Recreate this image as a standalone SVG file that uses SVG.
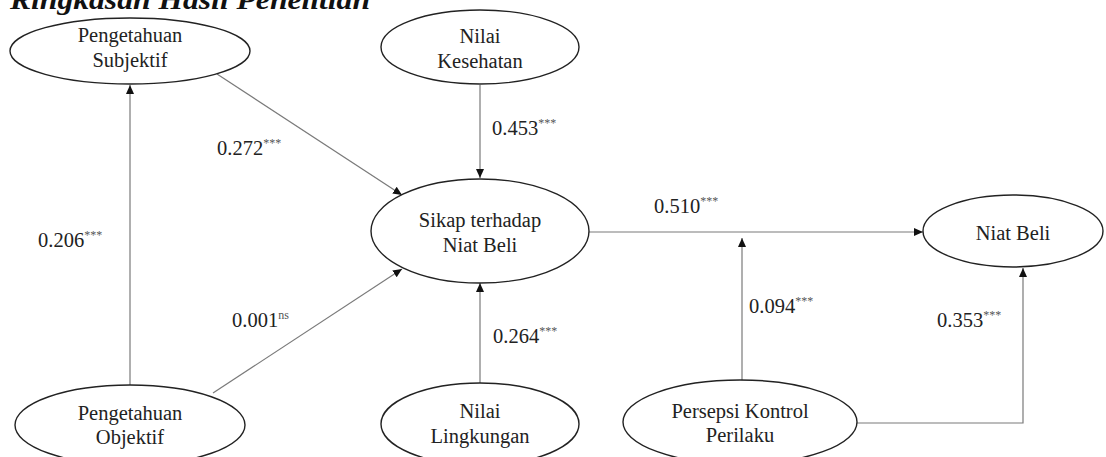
<svg xmlns="http://www.w3.org/2000/svg" width="1106" height="457" viewBox="0 0 1106 457">
<defs>
<marker id="ah" markerUnits="userSpaceOnUse" markerWidth="10" markerHeight="8" refX="9" refY="4" orient="auto">
<path d="M0,0 L9,4 L0,8 Z" fill="#111"/>
</marker>
<style>
.node ellipse{fill:#fff;stroke:#222;stroke-width:1.4}
.t{font-size:20.5px;fill:#222;text-anchor:middle}
.lb{font-size:20.5px;fill:#222}
.sup{font-size:12px;fill:#555}
.ln{stroke:#7a7a7a;stroke-width:1.2;fill:none}
.ar{marker-end:url(#ah)}
.title{font-size:27px;font-weight:bold;font-style:italic;fill:#111}
</style>
</defs>
<rect width="1106" height="457" fill="#fff"/>
<g font-family="'Liberation Serif', 'Times New Roman', 'DejaVu Serif', serif">
<text class="title" x="10" y="9" textLength="360" lengthAdjust="spacingAndGlyphs">Ringkasan Hasil Penelitian</text>
<g id="connectors">
<line class="ln ar" x1="130" y1="385" x2="130" y2="85"/>
<line class="ln ar" x1="217" y1="74" x2="402" y2="195"/>
<line class="ln ar" x1="213" y1="393" x2="402" y2="269"/>
<line class="ln ar" x1="480" y1="85" x2="480" y2="178"/>
<line class="ln ar" x1="480" y1="383" x2="480" y2="283"/>
<line class="ln ar" x1="589" y1="232" x2="923" y2="232"/>
<line class="ln ar" x1="742" y1="380" x2="742" y2="238"/>
<polyline class="ln ar" points="856,423 1023,423 1023,268"/>
</g>
<g id="labels">
<text class="lb" x="38" y="247">0.206<tspan class="sup" dy="-8">***</tspan></text>
<text class="lb" x="217" y="155">0.272<tspan class="sup" dy="-8">***</tspan></text>
<text class="lb" x="492" y="135">0.453<tspan class="sup" dy="-8">***</tspan></text>
<text class="lb" x="232" y="327">0.001<tspan class="sup" dy="-8">ns</tspan></text>
<text class="lb" x="493" y="343">0.264<tspan class="sup" dy="-8">***</tspan></text>
<text class="lb" x="654" y="213">0.510<tspan class="sup" dy="-8">***</tspan></text>
<text class="lb" x="749" y="313">0.094<tspan class="sup" dy="-8">***</tspan></text>
<text class="lb" x="937" y="327">0.353<tspan class="sup" dy="-8">***</tspan></text>
</g>
<g id="n-pengetahuan-subjektif" class="node">
<ellipse cx="130" cy="51" rx="120" ry="33"/>
<text class="t" x="130" y="42">Pengetahuan</text>
<text class="t" x="130" y="67">Subjektif</text>
</g>
<g id="n-nilai-kesehatan" class="node">
<ellipse cx="480" cy="47" rx="99" ry="37"/>
<text class="t" x="480" y="43">Nilai</text>
<text class="t" x="480" y="68">Kesehatan</text>
</g>
<g id="n-sikap" class="node">
<ellipse cx="480" cy="231" rx="109" ry="52"/>
<text class="t" x="480" y="227">Sikap terhadap</text>
<text class="t" x="480" y="252">Niat Beli</text>
</g>
<g id="n-niat-beli" class="node">
<ellipse cx="1013" cy="231" rx="90" ry="36"/>
<text class="t" x="1013" y="240">Niat Beli</text>
</g>
<g id="n-pengetahuan-objektif" class="node">
<ellipse cx="130" cy="425" rx="115" ry="40"/>
<text class="t" x="130" y="420">Pengetahuan</text>
<text class="t" x="130" y="444">Objektif</text>
</g>
<g id="n-nilai-lingkungan" class="node">
<ellipse cx="480" cy="424" rx="99" ry="41"/>
<text class="t" x="480" y="418">Nilai</text>
<text class="t" x="480" y="443">Lingkungan</text>
</g>
<g id="n-persepsi-kontrol" class="node">
<ellipse cx="740" cy="422" rx="117" ry="42"/>
<text class="t" x="740" y="418">Persepsi Kontrol</text>
<text class="t" x="740" y="442">Perilaku</text>
</g>
</g>
</svg>
